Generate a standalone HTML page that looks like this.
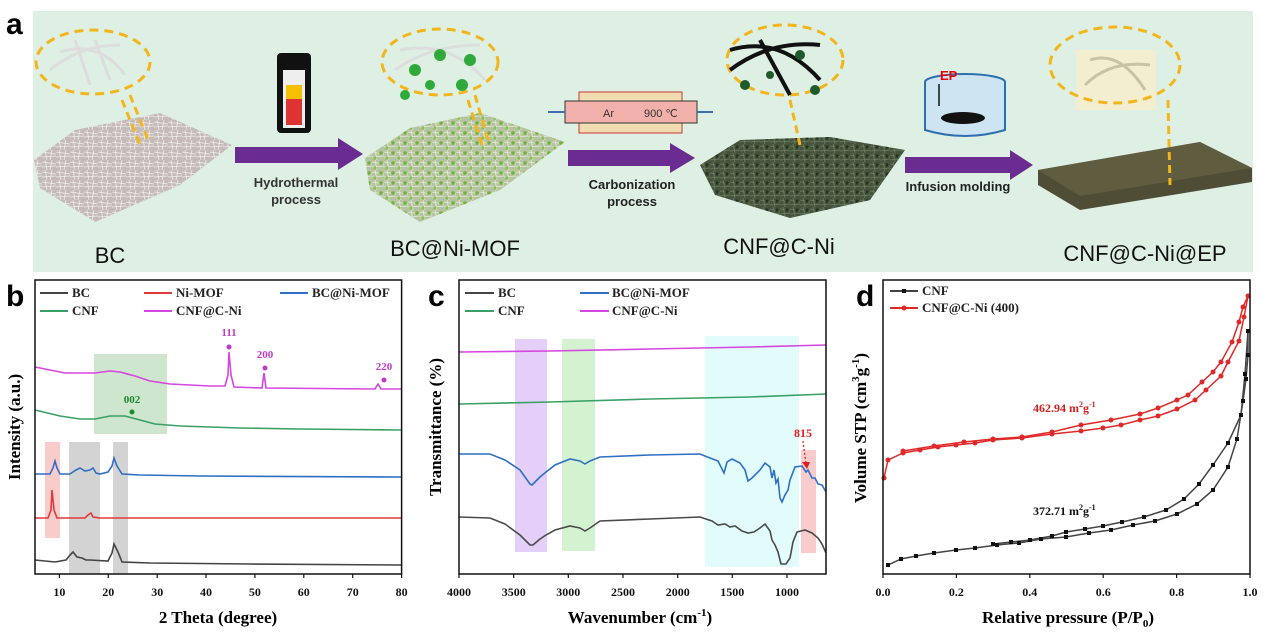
<!DOCTYPE html>
<html><head><meta charset="utf-8"><style>
html,body{margin:0;padding:0;background:#fff;}
svg{display:block;}
.ser{font-family:"Liberation Serif",serif;font-weight:bold;}
.san{font-family:"Liberation Sans",sans-serif;}
</style></head><body>
<svg width="1269" height="634" viewBox="0 0 1269 634" xmlns="http://www.w3.org/2000/svg">
<defs>
<pattern id="fib" width="14" height="10" patternUnits="userSpaceOnUse">
<path d="M0,2 L14,4 M0,7 L14,6 M3,0 L5,10 M10,0 L8,10" stroke="#f2eeee" stroke-width="0.8" fill="none"/>
</pattern>
<pattern id="fibg" width="12" height="10" patternUnits="userSpaceOnUse">
<path d="M0,2 L12,4 M0,7 L12,6 M3,0 L5,10" stroke="#e8ebe0" stroke-width="0.8" fill="none"/>
<circle cx="9" cy="3" r="1.8" fill="#6fb43a"/><circle cx="3" cy="8" r="1.6" fill="#86c050"/>
</pattern>
<pattern id="fibd" width="10" height="9" patternUnits="userSpaceOnUse">
<path d="M0,2 L10,4 M0,7 L10,6 M3,0 L5,9" stroke="#6f7f63" stroke-width="0.8" fill="none"/>
<circle cx="7" cy="3" r="1.6" fill="#25341f"/>
</pattern>
</defs>
<!-- Panel a -->
<rect x="33" y="11" width="1220" height="261" fill="#def0e4"/>
<text x="6" y="34" class="san" font-weight="bold" font-size="30">a</text>
<!-- BC mat -->
<polygon points="34,160 75,130 160,113 232,145 180,185 95,222 40,188" fill="#c4bab8"/>
<polygon points="34,160 75,130 160,113 232,145 180,185 95,222 40,188" fill="url(#fib)"/>
<ellipse cx="93" cy="62" rx="57" ry="32" fill="none" stroke="#f3b51c" stroke-width="3" stroke-dasharray="9 6"/>
<path d="M60,52 Q100,40 125,75 M50,70 Q80,45 120,45 M75,40 L90,85 M95,40 L110,80" stroke="#ddd" stroke-width="3" fill="none"/>
<path d="M130,95 L148,140 M122,100 L140,145" stroke="#f3b51c" stroke-width="3" stroke-dasharray="8 5"/>
<!-- arrow 1 -->
<polygon points="235,147 338,147 338,138 363,154 338,170 338,163 235,163" fill="#6a2c91"/>
<rect x="277" y="53" width="34" height="80" rx="4" fill="#111"/>
<rect x="283" y="70" width="22" height="58" fill="#eee"/>
<rect x="286" y="85" width="16" height="40" fill="#d33"/>
<rect x="286" y="85" width="16" height="14" fill="#f6c000"/>
<text x="296" y="187" class="san" font-weight="bold" font-size="13" fill="#333" text-anchor="middle">Hydrothermal</text>
<text x="296" y="204" class="san" font-weight="bold" font-size="13" fill="#333" text-anchor="middle">process</text>
<!-- BC@Ni-MOF mat -->
<polygon points="365,158 410,128 480,113 565,142 500,190 420,222 370,190" fill="#b5c39e"/>
<polygon points="365,158 410,128 480,113 565,142 500,190 420,222 370,190" fill="url(#fibg)"/>
<ellipse cx="440" cy="62" rx="58" ry="33" fill="none" stroke="#f3b51c" stroke-width="3" stroke-dasharray="9 6"/>
<path d="M400,50 Q450,40 485,80 M395,70 Q430,45 480,45" stroke="#ddd" stroke-width="3" fill="none"/>
<g fill="#2faa3a"><circle cx="440" cy="55" r="6"/><circle cx="470" cy="60" r="6"/><circle cx="415" cy="70" r="6"/><circle cx="462" cy="85" r="6"/><circle cx="430" cy="85" r="5"/><circle cx="405" cy="95" r="5"/></g>
<path d="M475,95 L488,140 M468,100 L482,145" stroke="#f3b51c" stroke-width="3" stroke-dasharray="8 5"/>
<text x="455" y="256" class="san" font-size="22" fill="#111" text-anchor="middle">BC@Ni-MOF</text>
<text x="110" y="263" class="san" font-size="22" fill="#111" text-anchor="middle">BC</text>
<!-- furnace -->
<rect x="579" y="92" width="103" height="41" fill="#efdcb0" stroke="#c33" stroke-width="1"/>
<rect x="565" y="101" width="132" height="22" fill="#f2b0aa" stroke="#333" stroke-width="1"/>
<line x1="548" y1="112" x2="565" y2="112" stroke="#3a6fb0" stroke-width="2"/>
<line x1="697" y1="112" x2="713" y2="112" stroke="#3a6fb0" stroke-width="2"/>
<text x="603" y="117" class="san" font-size="11" fill="#333">Ar</text>
<text x="644" y="117" class="san" font-size="11" fill="#333">900 ℃</text>
<polygon points="568,150 670,150 670,143 695,158 670,173 670,166 568,166" fill="#6a2c91"/>
<text x="632" y="189" class="san" font-weight="bold" font-size="13" fill="#222" text-anchor="middle">Carbonization</text>
<text x="632" y="206" class="san" font-weight="bold" font-size="13" fill="#222" text-anchor="middle">process</text>
<!-- CNF@C-Ni mat -->
<polygon points="700,165 740,140 830,137 905,150 870,200 790,218 715,195" fill="#45533c"/>
<polygon points="700,165 740,140 830,137 905,150 870,200 790,218 715,195" fill="url(#fibd)"/>
<ellipse cx="785" cy="60" rx="58" ry="35" fill="none" stroke="#f3b51c" stroke-width="3" stroke-dasharray="9 6"/>
<path d="M730,50 Q780,35 820,80 M730,70 Q770,40 820,45 M760,40 L790,95" stroke="#111" stroke-width="4" fill="none"/>
<g fill="#1f5a2a"><circle cx="745" cy="85" r="5"/><circle cx="800" cy="55" r="5"/><circle cx="815" cy="90" r="5"/><circle cx="770" cy="75" r="4"/></g>
<path d="M790,100 L800,145" stroke="#f3b51c" stroke-width="3" stroke-dasharray="8 5"/>
<text x="779" y="254" class="san" font-size="22" fill="#111" text-anchor="middle">CNF@C-Ni</text>
<!-- beaker -->
<ellipse cx="965" cy="82" rx="40" ry="8" fill="#cde4f2" stroke="#2e6fb0" stroke-width="2"/>
<path d="M925,82 L925,130 Q965,142 1005,130 L1005,82" fill="#cde4f2" stroke="#2e6fb0" stroke-width="2"/>
<ellipse cx="963" cy="118" rx="22" ry="6" fill="#111"/>
<text x="940" y="80" class="san" font-weight="bold" font-size="13" fill="#e00">EP</text>
<line x1="939" y1="84" x2="939" y2="106" stroke="#111" stroke-width="1.5"/>
<polygon points="905,157 1010,157 1010,150 1033,165 1010,180 1010,173 905,173" fill="#6a2c91"/>
<text x="958" y="191" class="san" font-weight="bold" font-size="13" fill="#222" text-anchor="middle">Infusion molding</text>
<!-- slab -->
<polygon points="1038,170 1200,142 1252,168 1252,182 1080,210 1038,185" fill="#4f4d35"/>
<polygon points="1038,170 1200,142 1252,168 1080,196" fill="#5f5c40"/>
<rect x="1076" y="50" width="80" height="60" fill="#f4eed0"/>
<path d="M1090,60 Q1120,50 1145,90 M1085,85 Q1110,60 1150,65" stroke="#c9c2a4" stroke-width="3" fill="none"/>
<ellipse cx="1115" cy="65" rx="65" ry="38" fill="none" stroke="#f3b51c" stroke-width="3" stroke-dasharray="9 6"/>
<path d="M1168,100 L1170,185" stroke="#f3b51c" stroke-width="3" stroke-dasharray="8 5"/>
<text x="1145" y="261" class="san" font-size="22" fill="#111" text-anchor="middle">CNF@C-Ni@EP</text>

<!-- Panel b -->
<text x="6" y="306" class="san" font-weight="bold" font-size="30">b</text>
<rect x="45" y="442" width="15" height="96" fill="#f9cccc"/>
<rect x="69" y="442" width="31" height="132" fill="#d3d3d3"/>
<rect x="113" y="442" width="15" height="132" fill="#d3d3d3"/>
<rect x="94" y="354" width="73" height="80" fill="#c8e3c8" opacity="0.9"/>
<g fill="none" stroke-width="1.6">
<path stroke="#d646e0" d="M35,367 L50,370 L65,373 L80,373 L95,373 L110,371 L120,372 L135,376 L150,381 L170,384 L210,386 L225,386 L228,375 L229,352 L231,375 L234,387 L262,388 L264,373 L266,388 L375,389 L378,384 L381,389 L401,389"/>
<path stroke="#3aa066" d="M35,410 L60,416 L80,419 L95,419 L110,416 L125,416 L140,420 L155,424 L180,426 L240,428 L300,429 L401,430"/>
<path stroke="#2f6fc5" d="M35,474 L50,474 L53,468 L55,461 L57,468 L60,474 L70,474 L76,470 L80,468 L85,471 L90,470 L93,468 L96,473 L100,474 L108,472 L112,466 L114,458 L117,466 L122,474 L140,475 L200,476 L401,477"/>
<path stroke="#e03a3a" d="M35,518 L48,518 L51,510 L52,490 L54,510 L57,518 L85,518 L88,515 L91,513 L93,517 L100,518 L401,518"/>
<path stroke="#444" d="M35,560 L55,562 L66,560 L70,555 L73,552 L77,557 L82,558 L86,560 L90,560 L108,561 L112,553 L114,544 L118,552 L122,562 L150,563 L250,564 L401,565"/>
</g>
<g class="ser" font-size="11">
<text x="229" y="336" fill="#c03ac8" text-anchor="middle">111</text>
<text x="265" y="358" fill="#c03ac8" text-anchor="middle">200</text>
<text x="384" y="370" fill="#c03ac8" text-anchor="middle">220</text>
<text x="132" y="403" fill="#1e8a2e" text-anchor="middle">002</text>
</g>
<g fill="#c03ac8"><circle cx="229" cy="347" r="2.5"/><circle cx="265" cy="368" r="2.5"/><circle cx="384" cy="380" r="2.5"/></g>
<circle cx="132" cy="412" r="2.5" fill="#1e8a2e"/>
<g stroke-width="2">
<line x1="40" y1="293" x2="68" y2="293" stroke="#444"/>
<line x1="144" y1="293" x2="172" y2="293" stroke="#e03a3a"/>
<line x1="280" y1="293" x2="308" y2="293" stroke="#2f6fc5"/>
<line x1="40" y1="311" x2="68" y2="311" stroke="#3aa066"/>
<line x1="144" y1="311" x2="172" y2="311" stroke="#d646e0"/>
</g>
<g class="ser" font-size="13" fill="#222">
<text x="72" y="297">BC</text><text x="176" y="297">Ni-MOF</text><text x="312" y="297">BC@Ni-MOF</text>
<text x="72" y="315">CNF</text><text x="176" y="315">CNF@C-Ni</text>
</g>
<rect x="35" y="280" width="366.6" height="294" fill="none" stroke="#111" stroke-width="1.5"/>
<g stroke="#111" stroke-width="1.2">
<line x1="59.4" y1="574" x2="59.4" y2="578"/><line x1="108.3" y1="574" x2="108.3" y2="578"/><line x1="157.2" y1="574" x2="157.2" y2="578"/><line x1="206" y1="574" x2="206" y2="578"/><line x1="254.9" y1="574" x2="254.9" y2="578"/><line x1="303.8" y1="574" x2="303.8" y2="578"/><line x1="352.7" y1="574" x2="352.7" y2="578"/><line x1="401.6" y1="574" x2="401.6" y2="578"/>
</g>
<g class="ser" font-size="12" fill="#111" text-anchor="middle">
<text x="59.4" y="596">10</text><text x="108.3" y="596">20</text><text x="157.2" y="596">30</text><text x="206" y="596">40</text><text x="254.9" y="596">50</text><text x="303.8" y="596">60</text><text x="352.7" y="596">70</text><text x="401.6" y="596">80</text>
</g>
<text x="218" y="623" class="ser" font-size="17" text-anchor="middle">2 Theta (degree)</text>
<text transform="translate(20,427) rotate(-90)" class="ser" font-size="17" text-anchor="middle">Intensity (a.u.)</text>

<!-- Panel c -->
<text x="428" y="306" class="san" font-weight="bold" font-size="30">c</text>
<rect x="515" y="339" width="32" height="213" fill="#e3cff8"/>
<rect x="562" y="339" width="33" height="212" fill="#d3f3d0"/>
<rect x="705" y="336" width="94" height="231" fill="#e2fbfb"/>
<rect x="801" y="450" width="15" height="103" fill="#f9cccc"/>
<g fill="none" stroke-width="1.6">
<path stroke="#d646e0" d="M459,352 L550,351 L650,349 L750,347 L826,345"/>
<path stroke="#3aa066" d="M459,404 L550,402 L650,399 L750,397 L826,394"/>
<path stroke="#2f6fc5" d="M459,454 L490,454 L505,460 L520,470 L530,484 L532,485 L540,477 L546,472 L555,465 L570,459 L580,461 L585,464 L590,461 L600,457 L650,455 L700,454 L710,458 L718,461 L722,469 L724,473 L727,462 L732,459 L740,463 L745,470 L748,481 L752,478 L760,470 L765,463 L770,467 L772,478 L774,470 L776,483 L778,479 L780,498 L782,502 L785,495 L788,490 L790,480 L795,467 L802,466 L806,472 L808,470 L812,478 L815,478 L818,484 L822,485 L826,492"/>
<path stroke="#4a4a4a" d="M459,517 L490,518 L505,524 L520,535 L530,545 L533,545 L540,539 L546,535 L555,530 L570,526 L580,528 L585,531 L590,528 L600,521 L650,519 L700,517 L712,521 L718,525 L725,524 L730,527 L735,526 L742,531 L748,533 L754,532 L760,528 L765,524 L770,531 L772,540 L775,545 L778,552 L781,564 L786,564 L790,558 L793,542 L797,532 L805,530 L812,533 L818,538 L822,544 L826,553"/>
</g>
<text x="803" y="437" class="ser" font-size="12" fill="#e02020" text-anchor="middle">815</text>
<line x1="803" y1="441" x2="806" y2="464" stroke="#e02020" stroke-width="1.2" stroke-dasharray="2 2"/>
<polygon points="802,462 810,462 807,469" fill="#e02020"/>
<g stroke-width="2">
<line x1="465" y1="293" x2="494" y2="293" stroke="#444"/>
<line x1="580" y1="293" x2="609" y2="293" stroke="#2f6fc5"/>
<line x1="465" y1="311" x2="494" y2="311" stroke="#3aa066"/>
<line x1="580" y1="311" x2="609" y2="311" stroke="#d646e0"/>
</g>
<g class="ser" font-size="13" fill="#222">
<text x="498" y="297">BC</text><text x="612" y="297">BC@Ni-MOF</text>
<text x="498" y="315">CNF</text><text x="612" y="315">CNF@C-Ni</text>
</g>
<rect x="459" y="280" width="367" height="294" fill="none" stroke="#111" stroke-width="1.5"/>
<g stroke="#111" stroke-width="1.2">
<line x1="459" y1="574" x2="459" y2="578"/><line x1="513.7" y1="574" x2="513.7" y2="578"/><line x1="568.3" y1="574" x2="568.3" y2="578"/><line x1="623" y1="574" x2="623" y2="578"/><line x1="677.7" y1="574" x2="677.7" y2="578"/><line x1="732.3" y1="574" x2="732.3" y2="578"/><line x1="787" y1="574" x2="787" y2="578"/>
</g>
<g class="ser" font-size="12" fill="#111" text-anchor="middle">
<text x="459" y="596">4000</text><text x="513.7" y="596">3500</text><text x="568.3" y="596">3000</text><text x="623" y="596">2500</text><text x="677.7" y="596">2000</text><text x="732.3" y="596">1500</text><text x="787" y="596">1000</text>
</g>
<text x="640" y="623" class="ser" font-size="17" text-anchor="middle">Wavenumber (cm<tspan font-size="11" dy="-7">-1</tspan><tspan dy="7">)</tspan></text>
<text transform="translate(441,427) rotate(-90)" class="ser" font-size="17" text-anchor="middle">Transmittance (%)</text>

<!-- Panel d -->
<text x="856" y="306" class="san" font-weight="bold" font-size="30">d</text>
<g fill="none" stroke-width="1.5">
<path stroke="#e02828" d="M884,478 L888,460 L903,453 L920,450 L938,447 L956,445 L975,443 L993,440 L1022,438 L1052,434 L1081,431 L1103,428 L1121,425 L1140,420 L1158,416 L1177,409 L1195,400 L1206,390 L1221,376 L1228,362 L1239,341 L1244,317 L1248,296"/>
<path stroke="#e02828" d="M1248,296 L1243,307 L1239,322 L1232,342 L1221,362 L1213,372 L1202,382 L1188,395 L1177,400 L1158,408 L1140,414 L1111,420 L1081,425 L1052,432 L1022,437 L993,439 L964,442 L934,446 L903,451"/>
<path stroke="#444" d="M888,565 L901,559 L916,556 L934,553 L956,550 L975,548 L997,545 L1019,543 L1041,539 L1066,537 L1089,533 L1111,530 L1133,525 L1155,521 L1177,514 L1197,504 L1213,490 L1228,467 L1237,439 L1243,401 L1246,379 L1248,355 L1248,331"/>
<path stroke="#444" d="M1248,331 L1245,374 L1241,415 L1228,443 L1213,465 L1199,484 L1184,499 L1166,510 L1144,517 L1122,522 L1103,526 L1085,529 L1066,532 L1052,536 L1030,540 L1011,542 L993,544"/>
</g>
<g fill="#e02828">
<circle cx="884" cy="478" r="2.5"/><circle cx="888" cy="460" r="2.5"/><circle cx="903" cy="453" r="2.5"/><circle cx="920" cy="450" r="2.5"/><circle cx="938" cy="447" r="2.5"/><circle cx="956" cy="445" r="2.5"/><circle cx="975" cy="443" r="2.5"/><circle cx="993" cy="440" r="2.5"/><circle cx="1022" cy="438" r="2.5"/><circle cx="1052" cy="434" r="2.5"/><circle cx="1081" cy="431" r="2.5"/><circle cx="1103" cy="428" r="2.5"/><circle cx="1121" cy="425" r="2.5"/><circle cx="1140" cy="420" r="2.5"/><circle cx="1158" cy="416" r="2.5"/><circle cx="1177" cy="409" r="2.5"/><circle cx="1195" cy="400" r="2.5"/><circle cx="1206" cy="390" r="2.5"/><circle cx="1221" cy="376" r="2.5"/><circle cx="1228" cy="362" r="2.5"/><circle cx="1239" cy="341" r="2.5"/><circle cx="1244" cy="317" r="2.5"/><circle cx="1248" cy="296" r="2.5"/>
<circle cx="1243" cy="307" r="2.5"/><circle cx="1239" cy="322" r="2.5"/><circle cx="1232" cy="342" r="2.5"/><circle cx="1221" cy="362" r="2.5"/><circle cx="1213" cy="372" r="2.5"/><circle cx="1202" cy="382" r="2.5"/><circle cx="1188" cy="395" r="2.5"/><circle cx="1177" cy="400" r="2.5"/><circle cx="1158" cy="408" r="2.5"/><circle cx="1140" cy="414" r="2.5"/><circle cx="1111" cy="420" r="2.5"/><circle cx="1081" cy="425" r="2.5"/><circle cx="1052" cy="432" r="2.5"/><circle cx="1022" cy="437" r="2.5"/><circle cx="993" cy="439" r="2.5"/><circle cx="964" cy="442" r="2.5"/><circle cx="934" cy="446" r="2.5"/><circle cx="903" cy="451" r="2.5"/>
</g>
<g fill="#111">
<rect x="886" y="563" width="4" height="4"/><rect x="899" y="557" width="4" height="4"/><rect x="914" y="554" width="4" height="4"/><rect x="932" y="551" width="4" height="4"/><rect x="954" y="548" width="4" height="4"/><rect x="973" y="546" width="4" height="4"/><rect x="995" y="543" width="4" height="4"/><rect x="1017" y="541" width="4" height="4"/><rect x="1039" y="537" width="4" height="4"/><rect x="1064" y="535" width="4" height="4"/><rect x="1087" y="531" width="4" height="4"/><rect x="1109" y="528" width="4" height="4"/><rect x="1131" y="523" width="4" height="4"/><rect x="1153" y="519" width="4" height="4"/><rect x="1175" y="512" width="4" height="4"/><rect x="1195" y="502" width="4" height="4"/><rect x="1211" y="488" width="4" height="4"/><rect x="1226" y="465" width="4" height="4"/><rect x="1235" y="437" width="4" height="4"/><rect x="1241" y="399" width="4" height="4"/><rect x="1244" y="377" width="4" height="4"/><rect x="1246" y="353" width="4" height="4"/><rect x="1246" y="329" width="4" height="4"/>
<rect x="1243" y="372" width="4" height="4"/><rect x="1239" y="413" width="4" height="4"/><rect x="1226" y="441" width="4" height="4"/><rect x="1211" y="463" width="4" height="4"/><rect x="1197" y="482" width="4" height="4"/><rect x="1182" y="497" width="4" height="4"/><rect x="1164" y="508" width="4" height="4"/><rect x="1142" y="515" width="4" height="4"/><rect x="1120" y="520" width="4" height="4"/><rect x="1101" y="524" width="4" height="4"/><rect x="1083" y="527" width="4" height="4"/><rect x="1064" y="530" width="4" height="4"/><rect x="1050" y="534" width="4" height="4"/><rect x="1028" y="538" width="4" height="4"/><rect x="1009" y="540" width="4" height="4"/><rect x="991" y="542" width="4" height="4"/>
</g>
<text x="1033" y="412" class="ser" font-size="12" fill="#d02020">462.94  m<tspan font-size="8" dy="-5">2</tspan><tspan dy="5">g</tspan><tspan font-size="8" dy="-5">-1</tspan></text>
<text x="1033" y="515" class="ser" font-size="12" fill="#111">372.71 m<tspan font-size="8" dy="-5">2</tspan><tspan dy="5">g</tspan><tspan font-size="8" dy="-5">-1</tspan></text>
<line x1="890" y1="291" x2="918" y2="291" stroke="#444" stroke-width="2"/><rect x="902" y="289" width="4" height="4" fill="#111"/>
<line x1="890" y1="308" x2="918" y2="308" stroke="#e02828" stroke-width="2"/><circle cx="904" cy="308" r="2.5" fill="#e02828"/>
<text x="922" y="295" class="ser" font-size="13" fill="#222">CNF</text>
<text x="922" y="312" class="ser" font-size="13" fill="#222">CNF@C-Ni (400)</text>
<rect x="883" y="280" width="367" height="294" fill="none" stroke="#111" stroke-width="1.5"/>
<g stroke="#111" stroke-width="1.2">
<line x1="883" y1="574" x2="883" y2="578"/><line x1="956.4" y1="574" x2="956.4" y2="578"/><line x1="1029.8" y1="574" x2="1029.8" y2="578"/><line x1="1103.2" y1="574" x2="1103.2" y2="578"/><line x1="1176.6" y1="574" x2="1176.6" y2="578"/><line x1="1250" y1="574" x2="1250" y2="578"/>
</g>
<g class="ser" font-size="12" fill="#111" text-anchor="middle">
<text x="883" y="596">0.0</text><text x="956.4" y="596">0.2</text><text x="1029.8" y="596">0.4</text><text x="1103.2" y="596">0.6</text><text x="1176.6" y="596">0.8</text><text x="1250" y="596">1.0</text>
</g>
<text x="1068" y="623" class="ser" font-size="17" text-anchor="middle">Relative pressure (P/P<tspan font-size="11" dy="4">0</tspan><tspan dy="-4">)</tspan></text>
<text transform="translate(866,428) rotate(-90)" class="ser" font-size="17" text-anchor="middle">Volume STP  (cm<tspan font-size="11" dy="-7">3</tspan><tspan dy="7">g</tspan><tspan font-size="11" dy="-7">-1</tspan><tspan dy="7">)</tspan></text>
</svg>
</body></html>
